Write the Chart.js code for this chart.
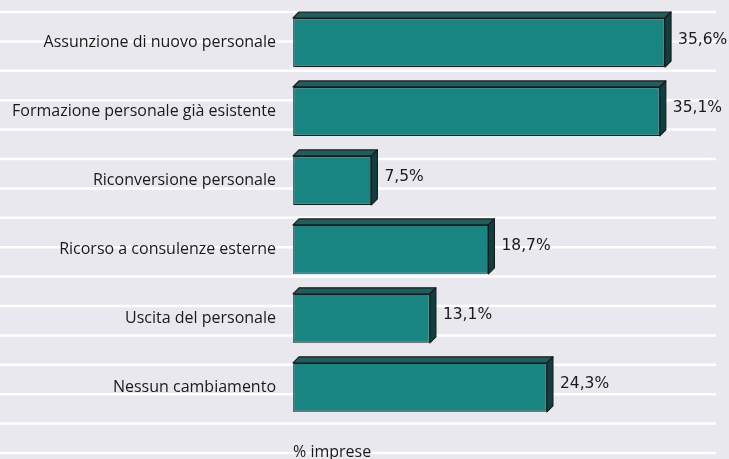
<!DOCTYPE html>
<html>
<head>
<meta charset="utf-8">
<script src="https://cdn.jsdelivr.net/npm/chart.js@4/dist/chart.umd.min.js"></script>
<style>
  html, body { margin: 0; padding: 0; background: #e9e8ee; }
</style>
</head>
<body>
<canvas id="chart" width="729" height="459"></canvas>
<script>
const categories = [
    'Assunzione di nuovo personale',
    'Formazione personale già esistente',
    'Riconversione personale',
    'Ricorso a consulenze esterne',
    'Uscita del personale',
    'Nessun cambiamento'
];
const values = [35.6, 35.1, 7.5, 18.7, 13.1, 24.3];
const axisTitle = '% imprese';

const DEPTH = 6;

// light background with white stripes, like the original slide
const stripes = {
    id: 'stripes',
    beforeDraw(chart) {
        const ctx = chart.ctx;
        ctx.save();
        ctx.fillStyle = '#e9e8ee';
        ctx.fillRect(0, 0, chart.width, chart.height);
        ctx.strokeStyle = '#ffffff';
        ctx.lineWidth = 2.5;
        for (let y = 12; y < chart.height; y += 29.4) {
            ctx.beginPath();
            ctx.moveTo(0, y);
            ctx.lineTo(716, y);
            ctx.stroke();
        }
        ctx.restore();
    }
};

// top and right faces of the bars + value labels
const bars3d = {
    id: 'bars3d',
    afterDatasetsDraw(chart) {
        const ctx = chart.ctx;
        const meta = chart.getDatasetMeta(0);
        ctx.save();
        ctx.lineWidth = 1.2;
        ctx.strokeStyle = '#1b1b1b';
        ctx.lineJoin = 'round';
        meta.data.forEach((bar, i) => {
            const left = bar.base, right = bar.x;
            const top = bar.y - bar.height / 2, bottom = bar.y + bar.height / 2;
            // left edge looks lighter in the original
            ctx.strokeStyle = '#5a6a6a';
            ctx.beginPath();
            ctx.moveTo(left + 0.6, top);
            ctx.lineTo(left + 0.6, bottom);
            ctx.stroke();
            ctx.strokeStyle = '#1b1b1b';
            // top face
            ctx.fillStyle = '#1f5e5c';
            ctx.beginPath();
            ctx.moveTo(left, top);
            ctx.lineTo(left + DEPTH, top - DEPTH);
            ctx.lineTo(right + DEPTH, top - DEPTH);
            ctx.lineTo(right, top);
            ctx.closePath();
            ctx.fill();
            ctx.stroke();
            // right face
            ctx.fillStyle = '#0f403f';
            ctx.beginPath();
            ctx.moveTo(right, top);
            ctx.lineTo(right + DEPTH, top - DEPTH);
            ctx.lineTo(right + DEPTH, bottom - DEPTH);
            ctx.lineTo(right, bottom);
            ctx.closePath();
            ctx.fill();
            ctx.stroke();

            ctx.fillStyle = '#1a1a1a';
            ctx.font = '15.5px "DejaVu Sans"';
            ctx.textAlign = 'left';
            ctx.textBaseline = 'middle';
            ctx.fillText(values[i].toFixed(1).replace('.', ',') + '%', right + DEPTH + 7, bar.y - 3);
        });
        ctx.restore();
    }
};

new Chart(document.getElementById('chart'), {
    type: 'bar',
    data: {
        labels: categories,
        datasets: [{
            data: values,
            backgroundColor: '#188583',
            borderColor: '#1b1b1b',
            borderWidth: 1.2,
            borderSkipped: false,
            barPercentage: 0.71,
            categoryPercentage: 1
        }]
    },
    options: {
        indexAxis: 'y',
        responsive: false,
        animation: false,
        layout: { padding: { top: 8, right: 18, bottom: 0, left: 0 } },
        plugins: {
            legend: { display: false },
            tooltip: { enabled: false }
        },
        scales: {
            x: {
                min: 0,
                max: 40,
                ticks: { display: false },
                grid: { display: false, drawTicks: false },
                border: { display: false },
                title: {
                    display: true,
                    text: axisTitle,
                    align: 'start',
                    color: '#1a1a1a',
                    font: { family: 'Open Sans', size: 16 },
                    padding: { top: 21, bottom: -3 }
                }
            },
            y: {
                grid: { display: false, drawTicks: false },
                border: { display: false },
                afterFit(scale) {
                    scale.width = 293;
                    scale.paddingTop = 0;
                    scale.paddingBottom = 0;
                },
                ticks: {
                    color: '#1a1a1a',
                    padding: 17,
                    font: { family: 'Open Sans', size: 16 }
                }
            }
        }
    },
    plugins: [stripes, bars3d]
});
</script>
</body>
</html>
